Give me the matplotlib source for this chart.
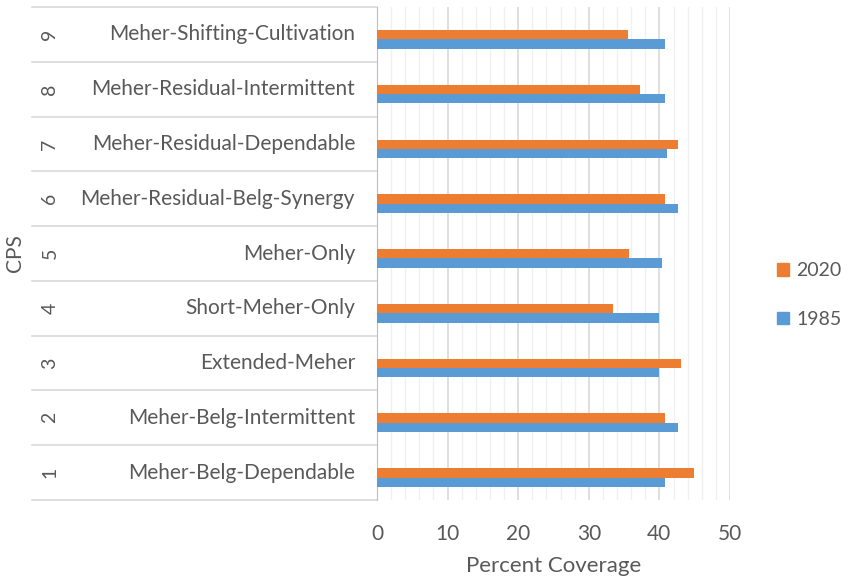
import matplotlib
matplotlib.use('Agg')
import matplotlib.pyplot as plt
import matplotlib.transforms as mtransforms
from matplotlib.patches import Patch
import numpy as np

plt.rcParams['font.family'] = ['Lato', 'DejaVu Sans']

cps_ids = [1, 2, 3, 4, 5, 6, 7, 8, 9]
cps_names = ['Meher-Belg-Dependable', 'Meher-Belg-Intermittent', 'Extended-Meher',
             'Short-Meher-Only', 'Meher-Only', 'Meher-Residual-Belg-Synergy',
             'Meher-Residual-Dependable', 'Meher-Residual-Intermittent',
             'Meher-Shifting-Cultivation']
cov_1985 = [40.8, 42.7, 40.0, 40.0, 40.3, 42.7, 41.1, 40.8, 40.8]
cov_2020 = [44.9, 40.8, 43.0, 33.4, 35.7, 40.8, 42.7, 37.2, 35.5]

blue = '#5B9BD5'
orange = '#ED7D31'
txt = '#595959'

fig = plt.figure(figsize=(8.51, 5.86), dpi=100)
ax = fig.add_axes([377 / 851, 1 - 500 / 586, 353 / 851, 493 / 586])

y = np.array(cps_ids, dtype=float)
h = 0.17
off = -0.09
ax.barh(y + off - h / 2, cov_1985, height=h, color=blue, label='1985', zorder=3)
ax.barh(y + off + h / 2, cov_2020, height=h, color=orange, label='2020', zorder=3)

ax.set_xlim(0, 50)
ax.set_ylim(0.5, 9.5)
ax.set_xticks(range(0, 51, 10))
ax.set_xticks(range(0, 51, 2), minor=True)
ax.grid(axis='x', which='major', color='#D9D9D9', linewidth=1.2, zorder=0)
ax.grid(axis='x', which='minor', color='#F0F0F0', linewidth=1.0, zorder=0)
ax.tick_params(axis='x', which='both', length=0, labelsize=15, labelcolor=txt, pad=17)
ax.set_yticks([])
for s in ['top', 'right', 'bottom']:
    ax.spines[s].set_visible(False)
ax.spines['left'].set_color('#BFBFBF')
ax.set_xlabel('Percent Coverage', fontsize=16, color=txt, labelpad=9)

# category table on the left
tr = mtransforms.blended_transform_factory(ax.transAxes, ax.transData)
x_left = (32 - 377) / 353
for b in np.arange(0.5, 10, 1.0):
    ax.plot([x_left, 0], [b, b], color='#D9D9D9', linewidth=1.2,
            transform=tr, clip_on=False)
for i, name in zip(cps_ids, cps_names):
    ax.text(-22 / 353, i, name, transform=tr, ha='right', va='center',
            fontsize=15, color=txt)
    ax.text((50 - 377) / 353, i, str(i), transform=tr, ha='center', va='center',
            fontsize=14, color=txt, rotation=90)
ax.text((15 - 377) / 353, 5, 'CPS', transform=tr, ha='center', va='center',
        fontsize=15, color=txt, rotation=90)

handles = [Patch(color=orange, label='2020'), Patch(color=blue, label='1985')]
fig.legend(handles=handles, loc='center left', bbox_to_anchor=(777 / 851, 1 - 295 / 586),
           frameon=False, fontsize=14, labelcolor=txt, handlelength=0.6,
           handleheight=0.6, handletextpad=0.4, labelspacing=1.6, borderpad=0.0,
           borderaxespad=0.0)

fig.savefig('out.png', dpi=100)
